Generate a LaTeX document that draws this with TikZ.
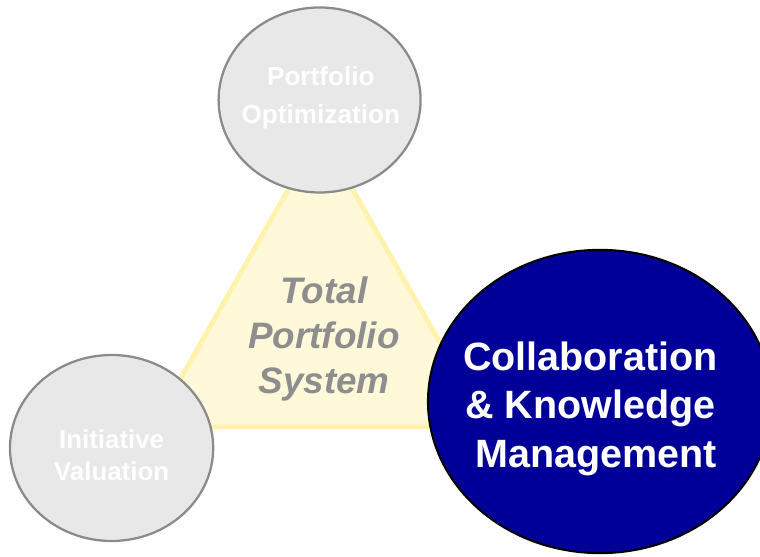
\documentclass[tikz,border=0pt]{standalone}
\usepackage{fontspec}
\setmainfont{Liberation Sans}
\begin{document}
\begin{tikzpicture}
\definecolor{paleyellow}{RGB}{255,249,218}
\definecolor{goldline}{RGB}{255,242,172}
\definecolor{lightgrey}{RGB}{232,232,232}
\definecolor{rimgrey}{RGB}{138,138,138}
\definecolor{textgrey}{RGB}{142,142,142}
\definecolor{navy}{RGB}{0,0,153}

\useasboundingbox (0, 0) rectangle (19, 13.925);
\clip (0, 0) rectangle (19, 13.925);

% the triangle behind
\draw[goldline, fill=paleyellow, line width=3.5pt, line join=round]
    (8.01, 10.6) -- (3.825, 3.25) -- (12.2, 3.25) -- cycle;

% the three circles
\draw[rimgrey, fill=lightgrey, line width=1.6pt] (7.99, 11.425) ellipse (2.525 and 2.3125);
\draw[rimgrey, fill=lightgrey, line width=1.6pt] (2.79, 2.725) ellipse (2.54 and 2.325);
\draw[black, fill=navy, line width=1.5pt] (15.0, 3.8875) ellipse (4.3 and 3.79);

\node[anchor=center, align=center, inner sep=0, text=white,
    font=\fontsize{18.6pt}{27pt}\selectfont\bfseries] (optText) at (8.02, 11.47)
    {Portfolio\\Optimization};
\node[anchor=center, align=center, inner sep=0, text=white,
    font=\fontsize{18.4pt}{22.8pt}\selectfont\bfseries] (valText) at (2.79, 2.5375)
    {Initiative\\Valuation};
\node[anchor=center, align=center, inner sep=0, text=textgrey,
    font=\fontsize{26.2pt}{32pt}\selectfont\bfseries\itshape] (totalText) at (8.1, 5.45)
    {Total\\Portfolio\\System};
\node[anchor=center, align=center, inner sep=0, text=white,
    font=\fontsize{28.1pt}{34.5pt}\selectfont\bfseries] (collabText) at (14.76, 3.7125)
    {Collaboration\\\& Knowledge\\~Management};

\end{tikzpicture}
\end{document}
